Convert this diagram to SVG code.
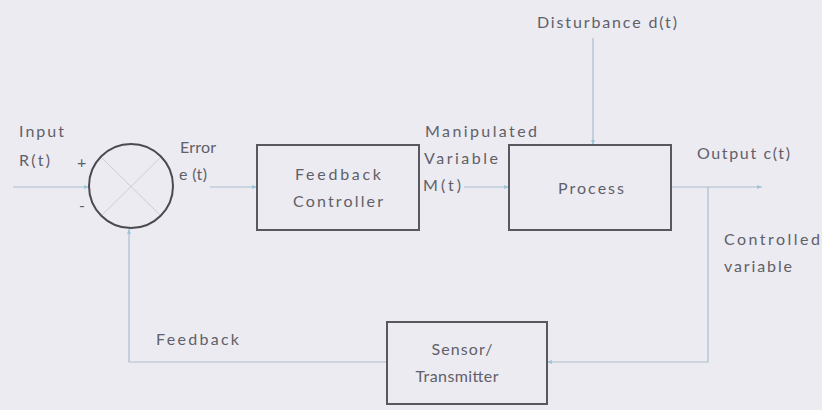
<svg xmlns="http://www.w3.org/2000/svg" width="822" height="410" viewBox="0 0 822 410">
<defs>
<style>
text{font-family:Lato,"Open Sans","Liberation Sans",sans-serif;font-size:16px;fill:#606068}
.box{fill:none;stroke:#58585e;stroke-width:2}
.ln{fill:none;stroke:#aabdcc;stroke-width:1.2}
.c{text-anchor:middle}
</style>
<marker id="ah" viewBox="0 0 10 10" refX="10" refY="5" markerWidth="5" markerHeight="5" orient="auto" markerUnits="userSpaceOnUse">
<path d="M0,1 L10,5 L0,9 Z" fill="#9cc6d8"/>
</marker>
</defs>
<rect width="822" height="410" fill="#ecebf2"/>
<g id="connectors">
<line class="ln" x1="13" y1="187" x2="89" y2="187" marker-end="url(#ah)"/>
<line class="ln" x1="210" y1="187" x2="257" y2="187" marker-end="url(#ah)"/>
<line class="ln" x1="464" y1="187" x2="509" y2="187" marker-end="url(#ah)"/>
<line class="ln" x1="593" y1="38" x2="593" y2="145" marker-end="url(#ah)"/>
<line class="ln" x1="671" y1="187" x2="762" y2="187" marker-end="url(#ah)"/>
<polyline class="ln" points="708,187 708,362 547,362" marker-end="url(#ah)"/>
<polyline class="ln" points="387,362 129,362 129,229" marker-end="url(#ah)"/>
</g>
<g id="summing-junction">
<line x1="101" y1="157" x2="161" y2="216" stroke="#cbcdd9" stroke-width="1"/>
<line x1="161" y1="157" x2="101" y2="216" stroke="#cbcdd9" stroke-width="1"/>
<circle cx="131" cy="186" r="42" fill="none" stroke="#4a4a50" stroke-width="2"/>
<text x="77" y="168">+</text>
<text x="79" y="211" fill="#9a9aa6">-</text>
</g>
<g id="feedback-controller">
<rect class="box" x="257" y="145" width="162" height="85"/>
<text class="c" x="338" y="180" textLength="86" lengthAdjust="spacing">Feedback</text>
<text class="c" x="338" y="207" textLength="90" lengthAdjust="spacing">Controller</text>
</g>
<g id="process">
<rect class="box" x="509" y="145" width="162" height="85"/>
<text class="c" x="591" y="194" textLength="66" lengthAdjust="spacing">Process</text>
</g>
<g id="sensor-transmitter">
<rect class="box" x="387" y="322" width="160" height="82"/>
<text class="c" x="462" y="355" textLength="61" lengthAdjust="spacing">Sensor/</text>
<text class="c" x="457" y="382" textLength="83" lengthAdjust="spacing">Transmitter</text>
</g>
<g id="labels">
<text x="537" y="28" textLength="140" lengthAdjust="spacing">Disturbance d(t)</text>
<text x="19" y="137" textLength="45" lengthAdjust="spacing">Input</text>
<text x="19" y="166" textLength="31" lengthAdjust="spacing">R(t)</text>
<text x="180" y="153" textLength="36" lengthAdjust="spacing">Error</text>
<text x="179" y="180" textLength="28" lengthAdjust="spacing">e (t)</text>
<text x="425" y="137" textLength="112" lengthAdjust="spacing">Manipulated</text>
<text x="424" y="164" textLength="74" lengthAdjust="spacing">Variable</text>
<text x="423" y="191" textLength="38" lengthAdjust="spacing">M(t)</text>
<text x="697" y="159" textLength="93" lengthAdjust="spacing">Output c(t)</text>
<text x="724" y="245" textLength="96" lengthAdjust="spacing">Controlled</text>
<text x="724" y="272" textLength="68" lengthAdjust="spacing">variable</text>
<text x="156" y="345" textLength="83" lengthAdjust="spacing">Feedback</text>
</g>
</svg>
